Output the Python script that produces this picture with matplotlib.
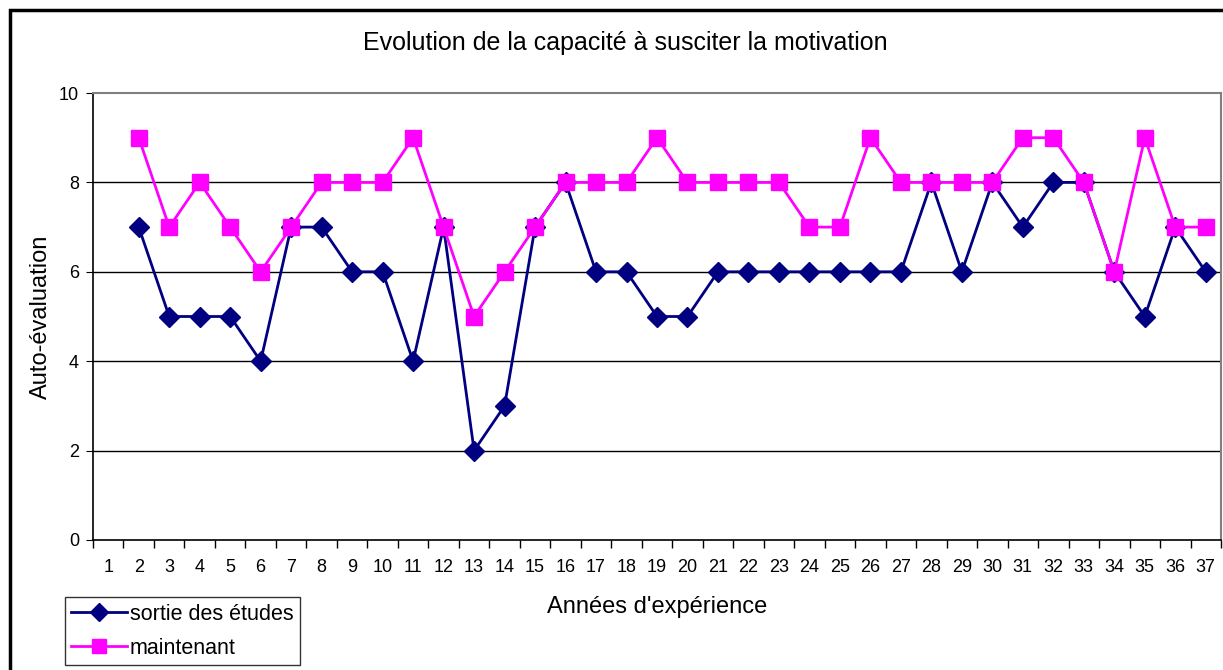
import matplotlib
matplotlib.use("Agg")
import matplotlib.pyplot as plt
from matplotlib.patches import Rectangle

plt.rcParams["font.family"] = ["Liberation Sans", "DejaVu Sans"]

NAVY = "#000080"
MAGENTA = "#FF00FF"

# categories 1..37, series start at year 2
years = list(range(1, 38))
x_data = list(range(2, 38))
sortie = [7, 5, 5, 5, 4, 7, 7, 6, 6, 4, 7, 2, 3, 7, 8, 6, 6, 5, 5, 6,
          6, 6, 6, 6, 6, 6, 8, 6, 8, 7, 8, 8, 6, 5, 7, 6]
maintenant = [9, 7, 8, 7, 6, 7, 8, 8, 8, 9, 7, 5, 6, 7, 8, 8, 8, 9, 8, 8,
              8, 8, 7, 7, 9, 8, 8, 8, 8, 9, 9, 8, 6, 9, 7, 7]
y_ticks = [0, 2, 4, 6, 8, 10]

fig = plt.figure(figsize=(12.23, 6.70), dpi=100)
ax = fig.add_axes([93 / 1223, 130 / 670, 1128 / 1223, 447 / 670])

# outer chart frame (cropped on right/bottom like the original)
fig.patches.append(Rectangle((10 / 1223, -0.05), 1.1, (660 / 670) + 0.05,
                             transform=fig.transFigure, fill=False,
                             edgecolor="black", linewidth=2.5, zorder=0))

for y in y_ticks[1:-1]:
    ax.axhline(y, color="black", linewidth=1, zorder=1)

# magenta series sits on top, as in the original
ax.plot(x_data, sortie, color=NAVY, lw=2, marker="D", markersize=10,
        markeredgecolor=NAVY, label="sortie des études", zorder=2)
ax.plot(x_data, maintenant, color=MAGENTA, lw=2, marker="s", markersize=11,
        markeredgecolor=MAGENTA, label="maintenant", zorder=3)

ax.set_xlim(0.5, 37.5)
ax.set_ylim(0, 10)
ax.set_yticks(y_ticks)
ax.set_xticks(years)
ax.set_xticks([i + 0.5 for i in range(0, 38)], minor=True)
ax.tick_params(axis="x", which="major", length=0, labelsize=13, pad=14)
ax.tick_params(axis="x", which="minor", length=6, direction="out", width=1)
ax.tick_params(axis="y", length=5, direction="out", labelsize=13, pad=5)

for s in ("left", "bottom"):
    ax.spines[s].set_color("black")
    ax.spines[s].set_linewidth(1.2)
for s in ("top", "right"):
    ax.spines[s].set_color("#808080")
    ax.spines[s].set_linewidth(1.5)

ax.set_ylabel("Auto-évaluation", fontsize=17, labelpad=5)
ax.set_xlabel("Années d'expérience", fontsize=17, labelpad=14)
fig.text(625 / 1223, 1 - 43 / 670, "Evolution de la capacité à susciter la motivation",
         ha="center", va="center", fontsize=18)

leg = fig.legend(loc="lower left", bbox_to_anchor=(65 / 1223, 5 / 670),
                 fontsize=15.5, frameon=True, fancybox=False, borderpad=0.3,
                 handlelength=2.6, handletextpad=0.1, labelspacing=0.6,
                 borderaxespad=0, markerscale=0.95)
leg.get_frame().set_edgecolor("black")
leg.get_frame().set_linewidth(1)

fig.savefig("out.png", dpi=100)
